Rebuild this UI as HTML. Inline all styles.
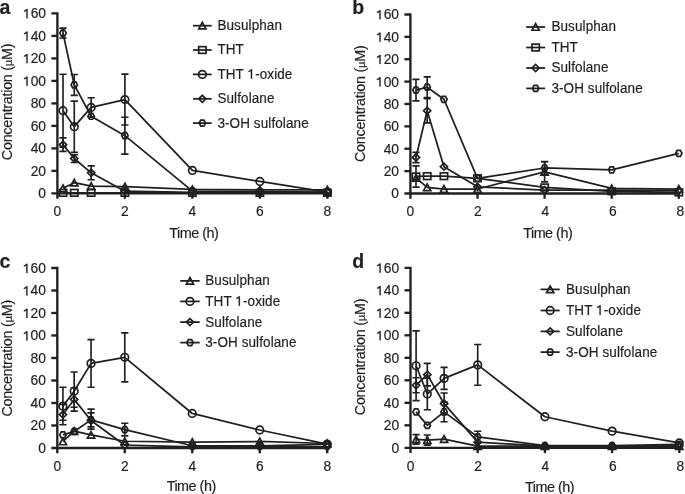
<!DOCTYPE html>
<html><head><meta charset="utf-8"><style>
html,body{margin:0;padding:0;background:#fff;}
body{width:685px;height:494px;overflow:hidden;}
svg{display:block;will-change:transform;}
text{font-family:"Liberation Sans",sans-serif;fill:#231f20;stroke:#231f20;stroke-width:0.18px;}
.tl{font-size:13.8px;}
.lg{font-size:13.5px;letter-spacing:0.1px;}
.at{font-size:14.4px;letter-spacing:-0.5px;}
.yl{letter-spacing:-0.3px;}
.hid{fill:none;stroke:none;}
.one{fill:#231f20;stroke:#231f20;stroke-width:0.18px;}
.pl{font-size:19.5px;font-weight:bold;}
.ax{stroke:#231f20;stroke-width:2.35;fill:none;stroke-linejoin:miter;stroke-linecap:butt;}
.dl{stroke:#231f20;stroke-width:1.75;fill:none;stroke-linejoin:round;}
.eb{stroke:#231f20;stroke-width:1.65;fill:none;}
.m{stroke:#231f20;stroke-width:1.7;fill:none;}
</style></head><body>
<svg width="685" height="494" viewBox="0 0 685 494">
<path d="M51.40 13.40H57.40V198.70" class="ax"/>
<path d="M51.40 193.40H327.40V198.70" class="ax"/>
<text x="46.00" y="198.30" class="tl" text-anchor="end">0</text>
<path d="M51.40 170.90H57.40" class="ax"/>
<text x="46.00" y="175.80" class="tl" text-anchor="end">20</text>
<path d="M51.40 148.40H57.40" class="ax"/>
<text x="46.00" y="153.30" class="tl" text-anchor="end">40</text>
<path d="M51.40 125.90H57.40" class="ax"/>
<text x="46.00" y="130.80" class="tl" text-anchor="end">60</text>
<path d="M51.40 103.40H57.40" class="ax"/>
<text x="46.00" y="108.30" class="tl" text-anchor="end">80</text>
<path d="M51.40 80.90H57.40" class="ax"/>
<text x="46.00" y="85.80" class="tl" text-anchor="end"><tspan class="hid">1</tspan>00</text>
<path d="M26.36 76.62H27.64V85.80H26.36V78.35C25.74 78.90 24.91 79.25 23.94 79.31V78.28C25.32 77.80 26.08 77.11 26.36 76.62Z" class="one"/>
<path d="M51.40 58.40H57.40" class="ax"/>
<text x="46.00" y="63.30" class="tl" text-anchor="end"><tspan class="hid">1</tspan>20</text>
<path d="M26.36 54.12H27.64V63.30H26.36V55.85C25.74 56.40 24.91 56.75 23.94 56.81V55.78C25.32 55.30 26.08 54.61 26.36 54.12Z" class="one"/>
<path d="M51.40 35.90H57.40" class="ax"/>
<text x="46.00" y="40.80" class="tl" text-anchor="end"><tspan class="hid">1</tspan>40</text>
<path d="M26.36 31.62H27.64V40.80H26.36V33.35C25.74 33.90 24.91 34.25 23.94 34.31V33.28C25.32 32.80 26.08 32.11 26.36 31.62Z" class="one"/>
<text x="46.00" y="18.30" class="tl" text-anchor="end"><tspan class="hid">1</tspan>60</text>
<path d="M26.36 9.12H27.64V18.30H26.36V10.85C25.74 11.40 24.91 11.75 23.94 11.81V10.78C25.32 10.30 26.08 9.61 26.36 9.12Z" class="one"/>
<text x="57.40" y="216.30" class="tl" text-anchor="middle">0</text>
<path d="M124.90 193.40V198.70" class="ax"/>
<text x="124.90" y="216.30" class="tl" text-anchor="middle">2</text>
<path d="M192.40 193.40V198.70" class="ax"/>
<text x="192.40" y="216.30" class="tl" text-anchor="middle">4</text>
<path d="M259.90 193.40V198.70" class="ax"/>
<text x="259.90" y="216.30" class="tl" text-anchor="middle">6</text>
<text x="327.40" y="216.30" class="tl" text-anchor="middle">8</text>
<text x="193.80" y="237.80" class="at" text-anchor="middle">Time (h)</text>
<text transform="translate(12.30 101.95) rotate(-90)" class="at yl" text-anchor="middle">Concentration (<tspan style="font-size:11.5px">µ</tspan>M)</text>
<text x="-0.6" y="13.6" class="pl">a</text>
<polyline points="63.02,192.84 74.28,192.84 91.15,192.84 124.90,192.84 192.40,192.84 259.90,192.84 327.40,192.84" class="dl"/>
<rect x="59.38" y="189.49" width="7.30" height="6.70" class="m"/>
<rect x="70.62" y="189.49" width="7.30" height="6.70" class="m"/>
<rect x="87.50" y="189.49" width="7.30" height="6.70" class="m"/>
<rect x="121.25" y="189.49" width="7.30" height="6.70" class="m"/>
<rect x="188.75" y="189.49" width="7.30" height="6.70" class="m"/>
<rect x="256.25" y="189.49" width="7.30" height="6.70" class="m"/>
<rect x="323.75" y="189.49" width="7.30" height="6.70" class="m"/>
<polyline points="63.02,188.34 74.28,182.71 91.15,186.09 124.90,186.65 192.40,189.46 259.90,189.80 327.40,189.80" class="dl"/>
<path d="M63.02 184.94L66.62 191.59L59.42 191.59Z" class="m"/>
<path d="M74.28 179.31L77.88 185.96L70.68 185.96Z" class="m"/>
<path d="M91.15 182.69L94.75 189.34L87.55 189.34Z" class="m"/>
<path d="M124.90 183.25L128.50 189.90L121.30 189.90Z" class="m"/>
<path d="M192.40 186.06L196.00 192.71L188.80 192.71Z" class="m"/>
<path d="M259.90 186.40L263.50 193.05L256.30 193.05Z" class="m"/>
<path d="M327.40 186.40L331.00 193.05L323.80 193.05Z" class="m"/>
<polyline points="63.02,144.58 74.28,158.53 91.15,172.81 124.90,191.15 192.40,192.28 259.90,192.28 327.40,192.28" class="dl"/>
<path d="M63.02 137.83V151.33M59.42 137.83H66.62M59.42 151.33H66.62" class="eb"/>
<path d="M74.28 154.59V162.46M70.68 154.59H77.88M70.68 162.46H77.88" class="eb"/>
<path d="M91.15 165.84V179.79M87.55 165.84H94.75M87.55 179.79H94.75" class="eb"/>
<path d="M63.02 141.08L66.62 144.58L63.02 148.08L59.42 144.58Z" class="m"/>
<path d="M74.28 155.03L77.88 158.53L74.28 162.03L70.68 158.53Z" class="m"/>
<path d="M91.15 169.31L94.75 172.81L91.15 176.31L87.55 172.81Z" class="m"/>
<path d="M124.90 187.65L128.50 191.15L124.90 194.65L121.30 191.15Z" class="m"/>
<path d="M192.40 188.78L196.00 192.28L192.40 195.78L188.80 192.28Z" class="m"/>
<path d="M259.90 188.78L263.50 192.28L259.90 195.78L256.30 192.28Z" class="m"/>
<path d="M327.40 188.78L331.00 192.28L327.40 195.78L323.80 192.28Z" class="m"/>
<polyline points="63.02,110.71 74.28,126.69 91.15,107.45 124.90,99.58 192.40,170.45 259.90,181.47 327.40,192.05" class="dl"/>
<path d="M63.02 74.26V147.16M59.42 74.26H66.62M59.42 147.16H66.62" class="eb"/>
<path d="M74.28 101.15V152.23M70.68 101.15H77.88M70.68 152.23H77.88" class="eb"/>
<path d="M91.15 97.78V117.12M87.55 97.78H94.75M87.55 117.12H94.75" class="eb"/>
<path d="M124.90 74.15V125.00M121.30 74.15H128.50M121.30 125.00H128.50" class="eb"/>
<circle cx="63.02" cy="110.71" r="3.80" class="m"/>
<circle cx="74.28" cy="126.69" r="3.80" class="m"/>
<circle cx="91.15" cy="107.45" r="3.80" class="m"/>
<circle cx="124.90" cy="99.58" r="3.80" class="m"/>
<circle cx="192.40" cy="170.45" r="3.80" class="m"/>
<circle cx="259.90" cy="181.47" r="3.80" class="m"/>
<circle cx="327.40" cy="192.05" r="3.80" class="m"/>
<polyline points="63.02,33.09 74.28,84.95 91.15,116.23 124.90,135.69 192.40,191.15 259.90,191.71 327.40,192.05" class="dl"/>
<path d="M63.02 28.14V38.04M59.42 28.14H66.62M59.42 38.04H66.62" class="eb"/>
<path d="M74.28 74.49V95.41M70.68 74.49H77.88M70.68 95.41H77.88" class="eb"/>
<path d="M124.90 117.24V154.14M121.30 117.24H128.50M121.30 154.14H128.50" class="eb"/>
<path d="M61.42 30.09H64.62L66.22 33.09L64.62 36.09H61.42L59.82 33.09Z" class="m"/>
<path d="M72.68 81.95H75.88L77.48 84.95L75.88 87.95H72.68L71.08 84.95Z" class="m"/>
<path d="M89.55 113.23H92.75L94.35 116.23L92.75 119.23H89.55L87.95 116.23Z" class="m"/>
<path d="M123.30 132.69H126.50L128.10 135.69L126.50 138.69H123.30L121.70 135.69Z" class="m"/>
<path d="M190.80 188.15H194.00L195.60 191.15L194.00 194.15H190.80L189.20 191.15Z" class="m"/>
<path d="M258.30 188.71H261.50L263.10 191.71L261.50 194.71H258.30L256.70 191.71Z" class="m"/>
<path d="M325.80 189.05H329.00L330.60 192.05L329.00 195.05H325.80L324.20 192.05Z" class="m"/>
<path d="M193.00 25.70H211.70" class="dl"/>
<path d="M202.35 22.30L205.95 28.95L198.75 28.95Z" class="m"/>
<text transform="translate(217.40 30.10) scale(1 1.07)" class="lg">Busulphan</text>
<path d="M193.00 50.00H211.70" class="dl"/>
<rect x="198.70" y="46.65" width="7.30" height="6.70" class="m"/>
<text transform="translate(217.40 54.40) scale(1 1.07)" class="lg">THT</text>
<path d="M193.00 74.40H211.70" class="dl"/>
<circle cx="202.35" cy="74.40" r="3.80" class="m"/>
<g transform="translate(217.40 78.80) scale(1 1.07)"><text x="0" y="0" class="lg">THT <tspan class="hid">1</tspan>-oxide</text>
<path d="M33.47 -8.98H34.72V0.00H33.47V-7.29C32.86 -6.75 32.05 -6.41 31.11 -6.34V-7.36C32.45 -7.83 33.20 -8.51 33.47 -8.98Z" class="one"/></g>
<path d="M193.00 98.80H211.70" class="dl"/>
<path d="M202.35 95.30L205.95 98.80L202.35 102.30L198.75 98.80Z" class="m"/>
<text transform="translate(217.40 103.20) scale(1 1.07)" class="lg">Sulfolane</text>
<path d="M193.00 123.10H211.70" class="dl"/>
<path d="M200.75 120.10H203.95L205.55 123.10L203.95 126.10H200.75L199.15 123.10Z" class="m"/>
<text transform="translate(217.40 127.50) scale(1 1.07)" class="lg">3-OH sulfolane</text>
<path d="M404.40 14.46H410.40V198.80" class="ax"/>
<path d="M404.40 193.50H678.80V198.80" class="ax"/>
<text x="399.00" y="198.40" class="tl" text-anchor="end">0</text>
<path d="M404.40 171.12H410.40" class="ax"/>
<text x="399.00" y="176.02" class="tl" text-anchor="end">20</text>
<path d="M404.40 148.74H410.40" class="ax"/>
<text x="399.00" y="153.64" class="tl" text-anchor="end">40</text>
<path d="M404.40 126.36H410.40" class="ax"/>
<text x="399.00" y="131.26" class="tl" text-anchor="end">60</text>
<path d="M404.40 103.98H410.40" class="ax"/>
<text x="399.00" y="108.88" class="tl" text-anchor="end">80</text>
<path d="M404.40 81.60H410.40" class="ax"/>
<text x="399.00" y="86.50" class="tl" text-anchor="end"><tspan class="hid">1</tspan>00</text>
<path d="M379.36 77.32H380.64V86.50H379.36V79.05C378.74 79.60 377.91 79.94 376.94 80.01V78.98C378.32 78.50 379.08 77.81 379.36 77.32Z" class="one"/>
<path d="M404.40 59.22H410.40" class="ax"/>
<text x="399.00" y="64.12" class="tl" text-anchor="end"><tspan class="hid">1</tspan>20</text>
<path d="M379.36 54.94H380.64V64.12H379.36V56.67C378.74 57.22 377.91 57.57 376.94 57.63V56.60C378.32 56.12 379.08 55.43 379.36 54.94Z" class="one"/>
<path d="M404.40 36.84H410.40" class="ax"/>
<text x="399.00" y="41.74" class="tl" text-anchor="end"><tspan class="hid">1</tspan>40</text>
<path d="M379.36 32.56H380.64V41.74H379.36V34.29C378.74 34.84 377.91 35.19 376.94 35.25V34.22C378.32 33.74 379.08 33.05 379.36 32.56Z" class="one"/>
<text x="399.00" y="19.36" class="tl" text-anchor="end"><tspan class="hid">1</tspan>60</text>
<path d="M379.36 10.18H380.64V19.36H379.36V11.91C378.74 12.46 377.91 12.81 376.94 12.87V11.84C378.32 11.36 379.08 10.67 379.36 10.18Z" class="one"/>
<text x="410.40" y="216.40" class="tl" text-anchor="middle">0</text>
<path d="M477.50 193.50V198.80" class="ax"/>
<text x="477.88" y="216.40" class="tl" text-anchor="middle">2</text>
<path d="M544.60 193.50V198.80" class="ax"/>
<text x="545.36" y="216.40" class="tl" text-anchor="middle">4</text>
<path d="M611.70 193.50V198.80" class="ax"/>
<text x="612.84" y="216.40" class="tl" text-anchor="middle">6</text>
<text x="680.32" y="216.40" class="tl" text-anchor="middle">8</text>
<text x="547.70" y="237.90" class="at" text-anchor="middle">Time (h)</text>
<text transform="translate(364.90 103.78) rotate(-90)" class="at yl" text-anchor="middle">Concentration (<tspan style="font-size:11.5px">µ</tspan>M)</text>
<text x="352.2" y="13.7" class="pl">b</text>
<polyline points="415.99,177.83 427.17,187.35 443.95,189.02 477.50,189.02 544.60,171.79 611.70,188.46 678.80,189.02" class="dl"/>
<path d="M544.60 161.72V181.86M541.00 161.72H548.20M541.00 181.86H548.20" class="eb"/>
<path d="M415.99 174.43L419.59 181.08L412.39 181.08Z" class="m"/>
<path d="M427.17 183.95L430.77 190.60L423.57 190.60Z" class="m"/>
<path d="M443.95 185.62L447.55 192.27L440.35 192.27Z" class="m"/>
<path d="M477.50 185.62L481.10 192.27L473.90 192.27Z" class="m"/>
<path d="M544.60 168.39L548.20 175.04L541.00 175.04Z" class="m"/>
<path d="M611.70 185.06L615.30 191.71L608.10 191.71Z" class="m"/>
<path d="M678.80 185.62L682.40 192.27L675.20 192.27Z" class="m"/>
<polyline points="415.99,176.49 427.17,176.16 443.95,176.16 477.50,178.28 544.60,187.46 611.70,191.26 678.80,192.38" class="dl"/>
<path d="M415.99 165.86V187.12M412.39 165.86H419.59M412.39 187.12H419.59" class="eb"/>
<rect x="412.34" y="173.14" width="7.30" height="6.70" class="m"/>
<rect x="423.52" y="172.81" width="7.30" height="6.70" class="m"/>
<rect x="440.30" y="172.81" width="7.30" height="6.70" class="m"/>
<rect x="473.85" y="174.93" width="7.30" height="6.70" class="m"/>
<rect x="540.95" y="184.11" width="7.30" height="6.70" class="m"/>
<rect x="608.05" y="187.91" width="7.30" height="6.70" class="m"/>
<rect x="675.15" y="189.03" width="7.30" height="6.70" class="m"/>
<polyline points="415.99,157.47 427.17,110.81 443.95,166.64 477.50,186.79 544.60,190.14 611.70,190.14 678.80,190.70" class="dl"/>
<path d="M415.99 152.32V162.62M412.39 152.32H419.59M412.39 162.62H419.59" class="eb"/>
<path d="M427.17 98.72V122.89M423.57 98.72H430.77M423.57 122.89H430.77" class="eb"/>
<path d="M415.99 153.97L419.59 157.47L415.99 160.97L412.39 157.47Z" class="m"/>
<path d="M427.17 107.31L430.77 110.81L427.17 114.31L423.57 110.81Z" class="m"/>
<path d="M443.95 163.14L447.55 166.64L443.95 170.14L440.35 166.64Z" class="m"/>
<path d="M477.50 183.29L481.10 186.79L477.50 190.29L473.90 186.79Z" class="m"/>
<path d="M544.60 186.64L548.20 190.14L544.60 193.64L541.00 190.14Z" class="m"/>
<path d="M611.70 186.64L615.30 190.14L611.70 193.64L608.10 190.14Z" class="m"/>
<path d="M678.80 187.20L682.40 190.70L678.80 194.20L675.20 190.70Z" class="m"/>
<polyline points="415.99,90.10 427.17,87.20 443.95,99.28 477.50,178.39 544.60,167.99 611.70,169.78 678.80,153.33" class="dl"/>
<path d="M415.99 79.36V100.85M412.39 79.36H419.59M412.39 100.85H419.59" class="eb"/>
<path d="M427.17 76.90V97.49M423.57 76.90H430.77M423.57 97.49H430.77" class="eb"/>
<path d="M544.60 161.50V174.48M541.00 161.50H548.20M541.00 174.48H548.20" class="eb"/>
<path d="M414.39 87.10H417.59L419.19 90.10L417.59 93.10H414.39L412.79 90.10Z" class="m"/>
<path d="M425.57 84.20H428.77L430.37 87.20L428.77 90.20H425.57L423.97 87.20Z" class="m"/>
<path d="M442.35 96.28H445.55L447.15 99.28L445.55 102.28H442.35L440.75 99.28Z" class="m"/>
<path d="M475.90 175.39H479.10L480.70 178.39L479.10 181.39H475.90L474.30 178.39Z" class="m"/>
<path d="M543.00 164.99H546.20L547.80 167.99L546.20 170.99H543.00L541.40 167.99Z" class="m"/>
<path d="M610.10 166.78H613.30L614.90 169.78L613.30 172.78H610.10L608.50 169.78Z" class="m"/>
<path d="M677.20 150.33H680.40L682.00 153.33L680.40 156.33H677.20L675.60 153.33Z" class="m"/>
<path d="M526.20 27.00H545.10" class="dl"/>
<path d="M535.65 23.60L539.25 30.25L532.05 30.25Z" class="m"/>
<text transform="translate(551.40 31.40) scale(1 1.07)" class="lg">Busulphan</text>
<path d="M526.20 47.50H545.10" class="dl"/>
<rect x="532.00" y="44.15" width="7.30" height="6.70" class="m"/>
<text transform="translate(551.40 51.90) scale(1 1.07)" class="lg">THT</text>
<path d="M526.20 68.00H545.10" class="dl"/>
<path d="M535.65 64.50L539.25 68.00L535.65 71.50L532.05 68.00Z" class="m"/>
<text transform="translate(551.40 72.40) scale(1 1.07)" class="lg">Sulfolane</text>
<path d="M526.20 88.40H545.10" class="dl"/>
<path d="M534.05 85.40H537.25L538.85 88.40L537.25 91.40H534.05L532.45 88.40Z" class="m"/>
<text transform="translate(551.40 92.80) scale(1 1.07)" class="lg">3-OH sulfolane</text>
<path d="M51.30 268.00H57.30V453.30" class="ax"/>
<path d="M51.30 448.00H327.22V453.30" class="ax"/>
<text x="45.90" y="452.90" class="tl" text-anchor="end">0</text>
<path d="M51.30 425.50H57.30" class="ax"/>
<text x="45.90" y="430.40" class="tl" text-anchor="end">20</text>
<path d="M51.30 403.00H57.30" class="ax"/>
<text x="45.90" y="407.90" class="tl" text-anchor="end">40</text>
<path d="M51.30 380.50H57.30" class="ax"/>
<text x="45.90" y="385.40" class="tl" text-anchor="end">60</text>
<path d="M51.30 358.00H57.30" class="ax"/>
<text x="45.90" y="362.90" class="tl" text-anchor="end">80</text>
<path d="M51.30 335.50H57.30" class="ax"/>
<text x="45.90" y="340.40" class="tl" text-anchor="end"><tspan class="hid">1</tspan>00</text>
<path d="M26.26 331.22H27.54V340.40H26.26V332.95C25.64 333.50 24.81 333.84 23.84 333.91V332.88C25.22 332.40 25.98 331.71 26.26 331.22Z" class="one"/>
<path d="M51.30 313.00H57.30" class="ax"/>
<text x="45.90" y="317.90" class="tl" text-anchor="end"><tspan class="hid">1</tspan>20</text>
<path d="M26.26 308.72H27.54V317.90H26.26V310.45C25.64 311.00 24.81 311.34 23.84 311.41V310.38C25.22 309.90 25.98 309.21 26.26 308.72Z" class="one"/>
<path d="M51.30 290.50H57.30" class="ax"/>
<text x="45.90" y="295.40" class="tl" text-anchor="end"><tspan class="hid">1</tspan>40</text>
<path d="M26.26 286.22H27.54V295.40H26.26V287.95C25.64 288.50 24.81 288.84 23.84 288.91V287.88C25.22 287.40 25.98 286.71 26.26 286.22Z" class="one"/>
<text x="45.90" y="272.90" class="tl" text-anchor="end"><tspan class="hid">1</tspan>60</text>
<path d="M26.26 263.72H27.54V272.90H26.26V265.45C25.64 266.00 24.81 266.34 23.84 266.41V265.38C25.22 264.90 25.98 264.21 26.26 263.72Z" class="one"/>
<text x="57.30" y="470.90" class="tl" text-anchor="middle">0</text>
<path d="M124.78 448.00V453.30" class="ax"/>
<text x="124.78" y="470.90" class="tl" text-anchor="middle">2</text>
<path d="M192.26 448.00V453.30" class="ax"/>
<text x="192.26" y="470.90" class="tl" text-anchor="middle">4</text>
<path d="M259.74 448.00V453.30" class="ax"/>
<text x="259.74" y="470.90" class="tl" text-anchor="middle">6</text>
<text x="327.22" y="470.90" class="tl" text-anchor="middle">8</text>
<text x="191.16" y="491.30" class="at" text-anchor="middle">Time (h)</text>
<text transform="translate(12.10 358.30) rotate(-90)" class="at yl" text-anchor="middle">Concentration (<tspan style="font-size:11.5px">µ</tspan>M)</text>
<text x="-0.6" y="267.6" class="pl">c</text>
<polyline points="62.92,441.48 74.17,431.12 91.04,434.95 124.78,441.25 192.26,442.15 259.74,441.48 327.22,443.50" class="dl"/>
<path d="M62.92 438.08L66.52 444.73L59.32 444.73Z" class="m"/>
<path d="M74.17 427.73L77.77 434.38L70.57 434.38Z" class="m"/>
<path d="M91.04 431.55L94.64 438.20L87.44 438.20Z" class="m"/>
<path d="M124.78 437.85L128.38 444.50L121.18 444.50Z" class="m"/>
<path d="M192.26 438.75L195.86 445.40L188.66 445.40Z" class="m"/>
<path d="M259.74 438.08L263.34 444.73L256.14 444.73Z" class="m"/>
<path d="M327.22 440.10L330.82 446.75L323.62 446.75Z" class="m"/>
<polyline points="62.92,414.59 74.17,399.40 91.04,420.44 124.78,445.19 192.26,446.88 259.74,446.88 327.22,446.88" class="dl"/>
<path d="M62.92 404.46V424.71M59.32 404.46H66.52M59.32 424.71H66.52" class="eb"/>
<path d="M74.17 387.70V411.10M70.57 387.70H77.77M70.57 411.10H77.77" class="eb"/>
<path d="M91.04 409.19V429.10M87.44 409.19H94.64M87.44 429.10H94.64" class="eb"/>
<path d="M62.92 411.09L66.52 414.59L62.92 418.09L59.32 414.59Z" class="m"/>
<path d="M74.17 395.90L77.77 399.40L74.17 402.90L70.57 399.40Z" class="m"/>
<path d="M91.04 416.94L94.64 420.44L91.04 423.94L87.44 420.44Z" class="m"/>
<path d="M124.78 441.69L128.38 445.19L124.78 448.69L121.18 445.19Z" class="m"/>
<path d="M192.26 443.38L195.86 446.88L192.26 450.38L188.66 446.88Z" class="m"/>
<path d="M259.74 443.38L263.34 446.88L259.74 450.38L256.14 446.88Z" class="m"/>
<path d="M327.22 443.38L330.82 446.88L327.22 450.38L323.62 446.88Z" class="m"/>
<polyline points="62.92,434.95 74.17,431.46 91.04,419.88 124.78,429.55 192.26,445.75 259.74,445.75 327.22,444.40" class="dl"/>
<path d="M91.04 412.90V426.85M87.44 412.90H94.64M87.44 426.85H94.64" class="eb"/>
<path d="M124.78 423.25V435.85M121.18 423.25H128.38M121.18 435.85H128.38" class="eb"/>
<path d="M61.32 431.95H64.52L66.12 434.95L64.52 437.95H61.32L59.72 434.95Z" class="m"/>
<path d="M72.57 428.46H75.77L77.37 431.46L75.77 434.46H72.57L70.97 431.46Z" class="m"/>
<path d="M89.44 416.88H92.64L94.24 419.88L92.64 422.88H89.44L87.84 419.88Z" class="m"/>
<path d="M123.18 426.55H126.38L127.98 429.55L126.38 432.55H123.18L121.58 429.55Z" class="m"/>
<path d="M190.66 442.75H193.86L195.46 445.75L193.86 448.75H190.66L189.06 445.75Z" class="m"/>
<path d="M258.14 442.75H261.34L262.94 445.75L261.34 448.75H258.14L256.54 445.75Z" class="m"/>
<path d="M325.62 441.40H328.82L330.42 444.40L328.82 447.40H325.62L324.02 444.40Z" class="m"/>
<polyline points="62.92,406.15 74.17,391.19 91.04,363.40 124.78,357.32 192.26,413.46 259.74,430.00 327.22,444.06" class="dl"/>
<path d="M62.92 387.25V420.21M59.32 387.25H66.52M59.32 420.21H66.52" class="eb"/>
<path d="M74.17 371.95V407.27M70.57 371.95H77.77M70.57 407.27H77.77" class="eb"/>
<path d="M91.04 339.55V387.25M87.44 339.55H94.64M87.44 387.25H94.64" class="eb"/>
<path d="M124.78 332.80V381.85M121.18 332.80H128.38M121.18 381.85H128.38" class="eb"/>
<circle cx="62.92" cy="406.15" r="3.80" class="m"/>
<circle cx="74.17" cy="391.19" r="3.80" class="m"/>
<circle cx="91.04" cy="363.40" r="3.80" class="m"/>
<circle cx="124.78" cy="357.32" r="3.80" class="m"/>
<circle cx="192.26" cy="413.46" r="3.80" class="m"/>
<circle cx="259.74" cy="430.00" r="3.80" class="m"/>
<circle cx="327.22" cy="444.06" r="3.80" class="m"/>
<path d="M180.20 280.90H199.70" class="dl"/>
<path d="M189.95 277.50L193.55 284.15L186.35 284.15Z" class="m"/>
<text transform="translate(205.20 285.30) scale(1 1.07)" class="lg">Busulphan</text>
<path d="M180.20 301.40H199.70" class="dl"/>
<circle cx="189.95" cy="301.40" r="3.80" class="m"/>
<g transform="translate(205.20 305.80) scale(1 1.07)"><text x="0" y="0" class="lg">THT <tspan class="hid">1</tspan>-oxide</text>
<path d="M33.47 -8.98H34.72V0.00H33.47V-7.29C32.86 -6.75 32.05 -6.41 31.11 -6.34V-7.36C32.45 -7.83 33.20 -8.51 33.47 -8.98Z" class="one"/></g>
<path d="M180.20 322.10H199.70" class="dl"/>
<path d="M189.95 318.60L193.55 322.10L189.95 325.60L186.35 322.10Z" class="m"/>
<text transform="translate(205.20 326.50) scale(1 1.07)" class="lg">Sulfolane</text>
<path d="M180.20 342.60H199.70" class="dl"/>
<path d="M188.35 339.60H191.55L193.15 342.60L191.55 345.60H188.35L186.75 342.60Z" class="m"/>
<text transform="translate(205.20 347.00) scale(1 1.07)" class="lg">3-OH sulfolane</text>
<path d="M404.50 267.80H410.50V453.10" class="ax"/>
<path d="M404.50 447.80H679.30V453.10" class="ax"/>
<text x="399.10" y="452.70" class="tl" text-anchor="end">0</text>
<path d="M404.50 425.30H410.50" class="ax"/>
<text x="399.10" y="430.20" class="tl" text-anchor="end">20</text>
<path d="M404.50 402.80H410.50" class="ax"/>
<text x="399.10" y="407.70" class="tl" text-anchor="end">40</text>
<path d="M404.50 380.30H410.50" class="ax"/>
<text x="399.10" y="385.20" class="tl" text-anchor="end">60</text>
<path d="M404.50 357.80H410.50" class="ax"/>
<text x="399.10" y="362.70" class="tl" text-anchor="end">80</text>
<path d="M404.50 335.30H410.50" class="ax"/>
<text x="399.10" y="340.20" class="tl" text-anchor="end"><tspan class="hid">1</tspan>00</text>
<path d="M379.46 331.02H380.74V340.20H379.46V332.75C378.84 333.30 378.01 333.64 377.04 333.71V332.68C378.42 332.20 379.18 331.51 379.46 331.02Z" class="one"/>
<path d="M404.50 312.80H410.50" class="ax"/>
<text x="399.10" y="317.70" class="tl" text-anchor="end"><tspan class="hid">1</tspan>20</text>
<path d="M379.46 308.52H380.74V317.70H379.46V310.25C378.84 310.80 378.01 311.14 377.04 311.21V310.18C378.42 309.70 379.18 309.01 379.46 308.52Z" class="one"/>
<path d="M404.50 290.30H410.50" class="ax"/>
<text x="399.10" y="295.20" class="tl" text-anchor="end"><tspan class="hid">1</tspan>40</text>
<path d="M379.46 286.02H380.74V295.20H379.46V287.75C378.84 288.30 378.01 288.64 377.04 288.71V287.68C378.42 287.20 379.18 286.51 379.46 286.02Z" class="one"/>
<text x="399.10" y="272.70" class="tl" text-anchor="end"><tspan class="hid">1</tspan>60</text>
<path d="M379.46 263.52H380.74V272.70H379.46V265.25C378.84 265.80 378.01 266.14 377.04 266.21V265.18C378.42 264.70 379.18 264.01 379.46 263.52Z" class="one"/>
<text x="410.50" y="470.70" class="tl" text-anchor="middle">0</text>
<path d="M477.70 447.80V453.10" class="ax"/>
<text x="477.98" y="470.70" class="tl" text-anchor="middle">2</text>
<path d="M544.90 447.80V453.10" class="ax"/>
<text x="545.46" y="470.70" class="tl" text-anchor="middle">4</text>
<path d="M612.10 447.80V453.10" class="ax"/>
<text x="612.94" y="470.70" class="tl" text-anchor="middle">6</text>
<text x="680.42" y="470.70" class="tl" text-anchor="middle">8</text>
<text x="549.60" y="491.50" class="at" text-anchor="middle">Time (h)</text>
<text transform="translate(364.50 357.00) rotate(-90)" class="at yl" text-anchor="middle">Concentration (<tspan style="font-size:11.5px">µ</tspan>M)</text>
<text x="352.2" y="267.5" class="pl">d</text>
<polyline points="416.10,439.36 427.30,440.04 444.10,439.03 477.70,446.11 544.90,446.11 612.10,446.11 679.30,446.11" class="dl"/>
<path d="M416.10 434.64V444.09M412.50 434.64H419.70M412.50 444.09H419.70" class="eb"/>
<path d="M427.30 434.98V445.10M423.70 434.98H430.90M423.70 445.10H430.90" class="eb"/>
<path d="M416.10 435.96L419.70 442.61L412.50 442.61Z" class="m"/>
<path d="M427.30 436.64L430.90 443.29L423.70 443.29Z" class="m"/>
<path d="M444.10 435.63L447.70 442.28L440.50 442.28Z" class="m"/>
<path d="M477.70 442.71L481.30 449.36L474.10 449.36Z" class="m"/>
<path d="M544.90 442.71L548.50 449.36L541.30 449.36Z" class="m"/>
<path d="M612.10 442.71L615.70 449.36L608.50 449.36Z" class="m"/>
<path d="M679.30 442.71L682.90 449.36L675.70 449.36Z" class="m"/>
<polyline points="416.10,385.25 427.30,374.68 444.10,403.70 477.70,442.18 544.90,446.11 612.10,446.11 679.30,446.11" class="dl"/>
<path d="M416.10 377.71V392.79M412.50 377.71H419.70M412.50 392.79H419.70" class="eb"/>
<path d="M427.30 363.43V385.93M423.70 363.43H430.90M423.70 385.93H430.90" class="eb"/>
<path d="M444.10 393.01V414.39M440.50 393.01H447.70M440.50 414.39H447.70" class="eb"/>
<path d="M416.10 381.75L419.70 385.25L416.10 388.75L412.50 385.25Z" class="m"/>
<path d="M427.30 371.18L430.90 374.68L427.30 378.18L423.70 374.68Z" class="m"/>
<path d="M444.10 400.20L447.70 403.70L444.10 407.20L440.50 403.70Z" class="m"/>
<path d="M477.70 438.68L481.30 442.18L477.70 445.68L474.10 442.18Z" class="m"/>
<path d="M544.90 442.61L548.50 446.11L544.90 449.61L541.30 446.11Z" class="m"/>
<path d="M612.10 442.61L615.70 446.11L612.10 449.61L608.50 446.11Z" class="m"/>
<path d="M679.30 442.61L682.90 446.11L679.30 449.61L675.70 446.11Z" class="m"/>
<polyline points="416.10,411.91 427.30,425.41 444.10,411.91 477.70,436.89 544.90,445.55 612.10,445.55 679.30,444.43" class="dl"/>
<path d="M444.10 402.12V421.70M440.50 402.12H447.70M440.50 421.70H447.70" class="eb"/>
<path d="M477.70 431.26V442.51M474.10 431.26H481.30M474.10 442.51H481.30" class="eb"/>
<path d="M414.50 408.91H417.70L419.30 411.91L417.70 414.91H414.50L412.90 411.91Z" class="m"/>
<path d="M425.70 422.41H428.90L430.50 425.41L428.90 428.41H425.70L424.10 425.41Z" class="m"/>
<path d="M442.50 408.91H445.70L447.30 411.91L445.70 414.91H442.50L440.90 411.91Z" class="m"/>
<path d="M476.10 433.89H479.30L480.90 436.89L479.30 439.89H476.10L474.50 436.89Z" class="m"/>
<path d="M543.30 442.55H546.50L548.10 445.55L546.50 448.55H543.30L541.70 445.55Z" class="m"/>
<path d="M610.50 442.55H613.70L615.30 445.55L613.70 448.55H610.50L608.90 445.55Z" class="m"/>
<path d="M677.70 441.43H680.90L682.50 444.43L680.90 447.43H677.70L676.10 444.43Z" class="m"/>
<polyline points="416.10,365.79 427.30,394.03 444.10,378.39 477.70,364.89 544.90,416.75 612.10,431.15 679.30,442.96" class="dl"/>
<path d="M416.10 330.91V400.66M412.50 330.91H419.70M412.50 400.66H419.70" class="eb"/>
<path d="M427.30 378.28V409.78M423.70 378.28H430.90M423.70 409.78H430.90" class="eb"/>
<path d="M444.10 367.36V389.41M440.50 367.36H447.70M440.50 389.41H447.70" class="eb"/>
<path d="M477.70 344.52V385.25M474.10 344.52H481.30M474.10 385.25H481.30" class="eb"/>
<circle cx="416.10" cy="365.79" r="3.80" class="m"/>
<circle cx="427.30" cy="394.03" r="3.80" class="m"/>
<circle cx="444.10" cy="378.39" r="3.80" class="m"/>
<circle cx="477.70" cy="364.89" r="3.80" class="m"/>
<circle cx="544.90" cy="416.75" r="3.80" class="m"/>
<circle cx="612.10" cy="431.15" r="3.80" class="m"/>
<circle cx="679.30" cy="442.96" r="3.80" class="m"/>
<path d="M540.60 289.40H559.70" class="dl"/>
<path d="M550.15 286.00L553.75 292.65L546.55 292.65Z" class="m"/>
<text transform="translate(566.00 293.80) scale(1 1.07)" class="lg">Busulphan</text>
<path d="M540.60 310.50H559.70" class="dl"/>
<circle cx="550.15" cy="310.50" r="3.80" class="m"/>
<g transform="translate(566.00 314.90) scale(1 1.07)"><text x="0" y="0" class="lg">THT <tspan class="hid">1</tspan>-oxide</text>
<path d="M33.47 -8.98H34.72V0.00H33.47V-7.29C32.86 -6.75 32.05 -6.41 31.11 -6.34V-7.36C32.45 -7.83 33.20 -8.51 33.47 -8.98Z" class="one"/></g>
<path d="M540.60 331.40H559.70" class="dl"/>
<path d="M550.15 327.90L553.75 331.40L550.15 334.90L546.55 331.40Z" class="m"/>
<text transform="translate(566.00 335.80) scale(1 1.07)" class="lg">Sulfolane</text>
<path d="M540.60 352.10H559.70" class="dl"/>
<path d="M548.55 349.10H551.75L553.35 352.10L551.75 355.10H548.55L546.95 352.10Z" class="m"/>
<text transform="translate(566.00 356.50) scale(1 1.07)" class="lg">3-OH sulfolane</text>
</svg>
</body></html>
